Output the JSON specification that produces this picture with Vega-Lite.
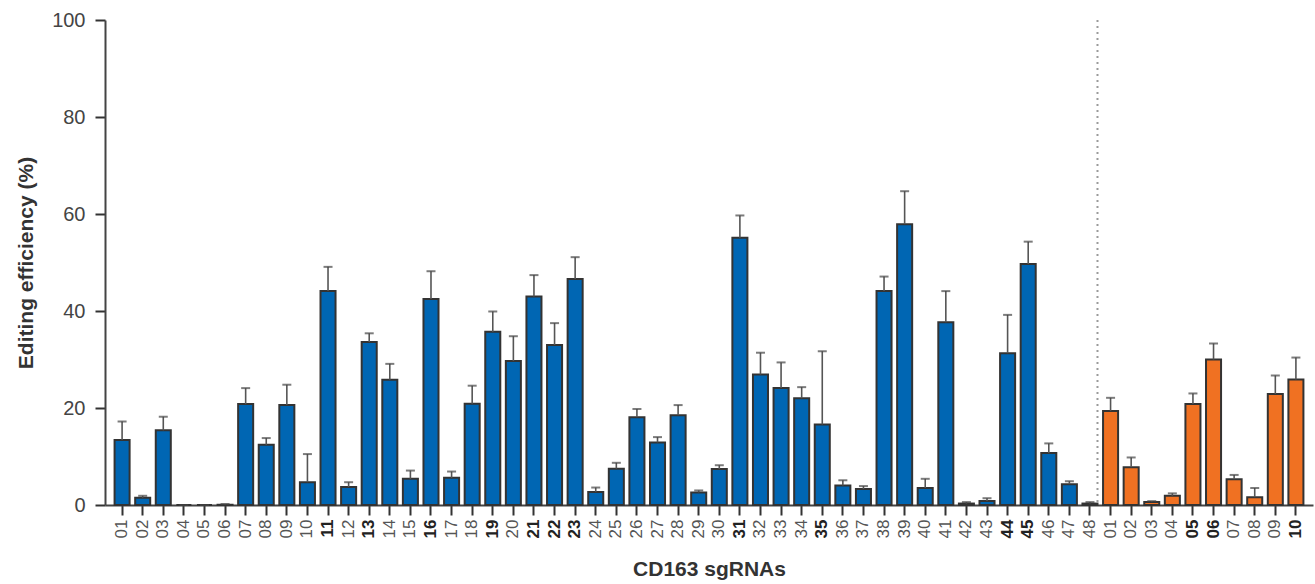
{
  "$schema": "https://vega.github.io/schema/vega-lite/v6.json",
  "autosize": "none",
  "width": 1208,
  "height": 485,
  "padding": {"left": 105, "top": 20, "right": 2, "bottom": 79},
  "background": "white",
  "config": {"view": {"stroke": null}, "font": "Liberation Sans"},
  "datasets": {
    "bars": [
      {"id": "B01", "label": "01", "group": "blue", "v": 13.4, "hi": 17.2},
      {"id": "B02", "label": "02", "group": "blue", "v": 1.5, "hi": 1.9},
      {"id": "B03", "label": "03", "group": "blue", "v": 15.4, "hi": 18.2},
      {"id": "B04", "label": "04", "group": "blue", "v": 0, "hi": 0},
      {"id": "B05", "label": "05", "group": "blue", "v": 0, "hi": 0},
      {"id": "B06", "label": "06", "group": "blue", "v": 0.05, "hi": 0.2},
      {"id": "B07", "label": "07", "group": "blue", "v": 20.8, "hi": 24.1},
      {"id": "B08", "label": "08", "group": "blue", "v": 12.4, "hi": 13.8},
      {"id": "B09", "label": "09", "group": "blue", "v": 20.6, "hi": 24.8},
      {"id": "B10", "label": "10", "group": "blue", "v": 4.7, "hi": 10.5},
      {"id": "B11", "label": "11", "group": "blue", "v": 44.1, "hi": 49.1},
      {"id": "B12", "label": "12", "group": "blue", "v": 3.7, "hi": 4.7},
      {"id": "B13", "label": "13", "group": "blue", "v": 33.6, "hi": 35.4},
      {"id": "B14", "label": "14", "group": "blue", "v": 25.8, "hi": 29.1},
      {"id": "B15", "label": "15", "group": "blue", "v": 5.4, "hi": 7.1},
      {"id": "B16", "label": "16", "group": "blue", "v": 42.5, "hi": 48.2},
      {"id": "B17", "label": "17", "group": "blue", "v": 5.6, "hi": 6.9},
      {"id": "B18", "label": "18", "group": "blue", "v": 20.9, "hi": 24.6},
      {"id": "B19", "label": "19", "group": "blue", "v": 35.7, "hi": 39.9},
      {"id": "B20", "label": "20", "group": "blue", "v": 29.7, "hi": 34.8},
      {"id": "B21", "label": "21", "group": "blue", "v": 43.0, "hi": 47.4},
      {"id": "B22", "label": "22", "group": "blue", "v": 33.0, "hi": 37.5},
      {"id": "B23", "label": "23", "group": "blue", "v": 46.6, "hi": 51.1},
      {"id": "B24", "label": "24", "group": "blue", "v": 2.7, "hi": 3.6},
      {"id": "B25", "label": "25", "group": "blue", "v": 7.5, "hi": 8.7},
      {"id": "B26", "label": "26", "group": "blue", "v": 18.1, "hi": 19.8},
      {"id": "B27", "label": "27", "group": "blue", "v": 12.9, "hi": 14.0},
      {"id": "B28", "label": "28", "group": "blue", "v": 18.5, "hi": 20.6},
      {"id": "B29", "label": "29", "group": "blue", "v": 2.6, "hi": 3.0},
      {"id": "B30", "label": "30", "group": "blue", "v": 7.4, "hi": 8.2},
      {"id": "B31", "label": "31", "group": "blue", "v": 55.1, "hi": 59.7},
      {"id": "B32", "label": "32", "group": "blue", "v": 26.9, "hi": 31.4},
      {"id": "B33", "label": "33", "group": "blue", "v": 24.1, "hi": 29.4},
      {"id": "B34", "label": "34", "group": "blue", "v": 22.0, "hi": 24.3},
      {"id": "B35", "label": "35", "group": "blue", "v": 16.6, "hi": 31.7},
      {"id": "B36", "label": "36", "group": "blue", "v": 4.0, "hi": 5.1},
      {"id": "B37", "label": "37", "group": "blue", "v": 3.3, "hi": 3.9},
      {"id": "B38", "label": "38", "group": "blue", "v": 44.1, "hi": 47.1},
      {"id": "B39", "label": "39", "group": "blue", "v": 57.9, "hi": 64.7},
      {"id": "B40", "label": "40", "group": "blue", "v": 3.5, "hi": 5.4},
      {"id": "B41", "label": "41", "group": "blue", "v": 37.7, "hi": 44.1},
      {"id": "B42", "label": "42", "group": "blue", "v": 0.3, "hi": 0.6},
      {"id": "B43", "label": "43", "group": "blue", "v": 0.8, "hi": 1.4},
      {"id": "B44", "label": "44", "group": "blue", "v": 31.3, "hi": 39.2},
      {"id": "B45", "label": "45", "group": "blue", "v": 49.7, "hi": 54.3},
      {"id": "B46", "label": "46", "group": "blue", "v": 10.7, "hi": 12.7},
      {"id": "B47", "label": "47", "group": "blue", "v": 4.3, "hi": 4.9},
      {"id": "B48", "label": "48", "group": "blue", "v": 0.3, "hi": 0.6},
      {"id": "O01", "label": "01", "group": "orange", "v": 19.4, "hi": 22.1},
      {"id": "O02", "label": "02", "group": "orange", "v": 7.8, "hi": 9.8},
      {"id": "O03", "label": "03", "group": "orange", "v": 0.6, "hi": 0.8},
      {"id": "O04", "label": "04", "group": "orange", "v": 1.9, "hi": 2.4},
      {"id": "O05", "label": "05", "group": "orange", "v": 20.8, "hi": 23.0},
      {"id": "O06", "label": "06", "group": "orange", "v": 30.0, "hi": 33.3},
      {"id": "O07", "label": "07", "group": "orange", "v": 5.3, "hi": 6.2},
      {"id": "O08", "label": "08", "group": "orange", "v": 1.6, "hi": 3.5},
      {"id": "O09", "label": "09", "group": "orange", "v": 22.9, "hi": 26.7},
      {"id": "O10", "label": "10", "group": "orange", "v": 25.9, "hi": 30.4}
    ],
    "divider": [{"id": "B48"}]
  },
  "layer": [
    {
      "data": {"name": "bars"},
      "mark": {"type": "bar", "stroke": "#333333", "strokeWidth": 2},
      "encoding": {
        "x": {
          "field": "id",
          "type": "nominal",
          "sort": null,
          "scale": {"paddingInner": 0.27, "paddingOuter": 0.465},
          "axis": {
            "title": "CD163 sgRNAs",
            "titleFont": "Liberation Sans",
            "titleFontSize": 21,
            "titleFontWeight": "bold",
            "titleColor": "#333333",
            "titlePadding": 21,
            "labelExpr": "substring(datum.value, 1)",
            "labelAngle": -90,
            "labelFont": "Liberation Sans",
            "labelFontSize": 17,
            "labelPadding": 4,
            "labelColor": {"condition": {"test": "indexof(['B11','B13','B16','B19','B21','B22','B23','B31','B35','B44','B45','O05','O06','O10'], datum.value) >= 0", "value": "#222222"}, "value": "#555555"},
            "labelFontWeight": {"condition": {"test": "indexof(['B11','B13','B16','B19','B21','B22','B23','B31','B35','B44','B45','O05','O06','O10'], datum.value) >= 0", "value": "bold"}, "value": "normal"},
            "tickSize": 10,
            "tickWidth": 2,
            "tickColor": "#333333",
            "domainColor": "#444444",
            "domainWidth": 2,
            "grid": false
          }
        },
        "y": {
          "field": "v",
          "type": "quantitative",
          "scale": {"domain": [0, 100], "nice": false},
          "axis": {
            "title": "Editing efficiency (%)",
            "titleFont": "Liberation Sans",
            "titleFontSize": 21,
            "titleFontWeight": "bold",
            "titleColor": "#333333",
            "titlePadding": 15,
            "values": [0, 20, 40, 60, 80, 100],
            "labelFont": "Liberation Sans",
            "labelFontSize": 20,
            "labelColor": "#444444",
            "labelPadding": 10,
            "tickSize": 10,
            "tickWidth": 2,
            "tickColor": "#333333",
            "domainColor": "#444444",
            "domainWidth": 2,
            "grid": false
          }
        },
        "color": {
          "field": "group",
          "type": "nominal",
          "scale": {"domain": ["blue", "orange"], "range": ["#0066b3", "#f07122"]},
          "legend": null
        }
      }
    },
    {
      "data": {"name": "bars"},
      "mark": {"type": "rule", "color": "#555555", "strokeWidth": 1.6},
      "encoding": {
        "x": {"field": "id", "type": "nominal", "sort": null},
        "y": {"field": "v", "type": "quantitative"},
        "y2": {"field": "hi"}
      }
    },
    {
      "data": {"name": "bars"},
      "mark": {"type": "tick", "color": "#444444", "size": 9, "thickness": 2},
      "encoding": {
        "x": {"field": "id", "type": "nominal", "sort": null},
        "y": {"field": "hi", "type": "quantitative"}
      }
    },
    {
      "data": {"name": "divider"},
      "mark": {"type": "rule", "color": "#9a9a9a", "strokeWidth": 2, "strokeDash": [2, 4]},
      "encoding": {
        "x": {"field": "id", "type": "nominal", "sort": null, "bandPosition": 1},
        "y": {"datum": 100},
        "y2": {"datum": 0}
      }
    }
  ]
}
